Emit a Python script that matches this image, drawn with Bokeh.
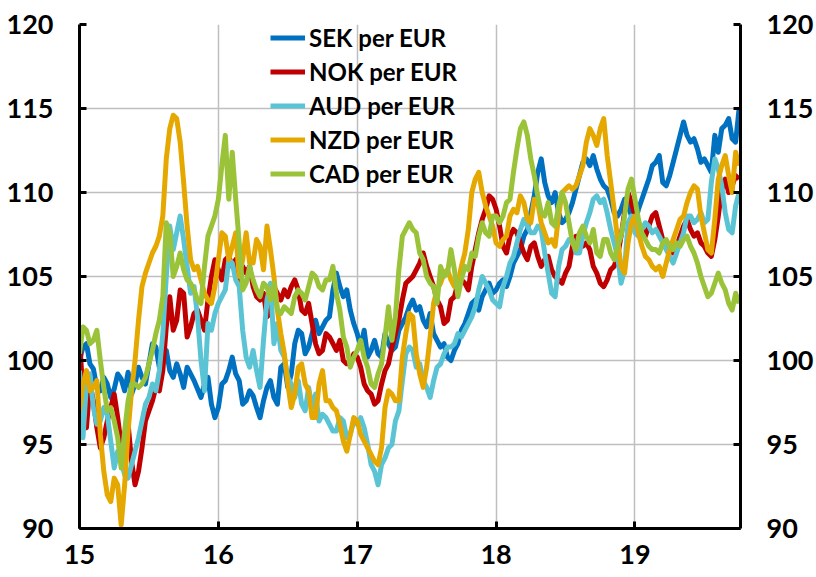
from bokeh.plotting import figure
from bokeh.models import Range1d, LinearAxis, FixedTicker, Legend, LegendItem
from bokeh.embed import file_html
from bokeh.resources import INLINE

# time axis (year - 2000), one reading every 0.025 year
years = [round(15 + 0.025 * i, 3) for i in range(191)]

sek = [100.0, 100.8, 101.0, 99.8, 99.5, 98.4, 98.2, 99.0, 98.6, 97.8,
       98.3, 99.2, 98.9, 98.2, 99.3, 98.0, 98.6, 99.6, 99.0, 98.6,
       99.8, 101.0, 100.8, 99.6, 100.2, 100.6, 99.4, 99.0, 99.8, 99.2,
       98.4, 99.6, 99.2, 98.8, 98.3, 97.8, 98.6, 99.0, 97.4, 96.6,
       97.2, 98.6, 98.8, 99.4, 100.2, 99.2, 98.8, 97.4, 97.6, 98.2,
       97.9, 97.2, 96.6, 97.6, 98.4, 98.8, 97.8, 97.4, 99.6, 99.8,
       98.4, 99.2, 101.0, 101.8, 101.6, 100.4, 100.8, 101.6, 102.4, 101.6,
       102.0, 102.4, 102.6, 104.2, 105.2, 104.4, 103.8, 104.2, 103.0, 102.2,
       101.6, 100.8, 101.8, 100.2, 100.6, 101.2, 100.4, 100.2, 101.6, 101.0,
       100.6, 100.8, 101.8, 102.2, 102.6, 103.2, 103.6, 103.0, 103.2, 102.4,
       102.0, 102.8, 101.6, 101.2, 100.8, 101.0, 100.2, 100.0, 100.6, 101.0,
       101.8, 102.2, 102.8, 103.4, 103.6, 103.0, 103.8, 104.2, 104.6, 104.0,
       104.2, 104.6, 104.8, 104.4, 105.0, 105.8, 106.2, 106.6, 107.4, 107.8,
       108.8, 109.8, 111.2, 112.0, 110.6, 109.8, 109.4, 110.0, 108.8, 108.2,
       108.4, 108.8, 109.4, 110.2, 111.0, 111.8, 112.0, 111.6, 112.2, 111.4,
       110.8, 110.4, 110.2, 109.6, 108.8, 108.6, 109.0, 109.6, 109.2, 108.6,
       108.2, 109.0, 109.6, 110.2, 110.8, 111.6, 111.8, 112.2, 110.6, 110.4,
       111.0, 111.8, 112.6, 113.4, 114.2, 113.4, 113.0, 113.2, 112.6, 111.8,
       112.0, 111.6, 111.2, 113.4, 112.4, 113.8, 114.0, 114.4, 113.2, 113.0,
       115.0]

nok = [101.3, 98.0, 96.0, 98.6, 97.6, 96.0, 94.8, 95.4, 96.4, 97.2,
       98.0, 96.6, 95.0, 94.4, 96.2, 94.0, 92.6, 93.4, 94.8, 96.4,
       97.0, 97.6, 98.4, 98.2, 99.4, 102.0, 103.8, 101.8, 102.4, 104.2,
       104.0, 101.4, 102.0, 102.8, 103.0, 102.4, 101.8, 103.6, 105.0, 106.0,
       105.4, 104.8, 106.0, 106.2, 105.6, 106.0, 104.8, 105.6, 105.2, 105.6,
       104.4, 103.8, 103.6, 104.0, 102.6, 102.8, 104.4, 104.0, 103.6, 104.2,
       103.8, 104.4, 104.8, 104.2, 103.0, 102.8, 103.4, 102.2, 101.0, 100.4,
       100.6, 101.6, 101.4, 101.0, 100.6, 101.2, 100.0, 99.8, 99.8, 100.4,
       100.2, 99.6, 98.6, 98.2, 98.0, 97.4, 97.6, 98.6, 99.4, 99.8,
       100.8, 101.6, 102.4, 103.6, 104.6, 104.8, 105.0, 105.4, 105.8, 106.4,
       105.6, 105.0, 104.4, 103.6, 103.2, 102.2, 102.4, 103.6, 103.8, 104.6,
       104.8, 104.6, 104.2, 105.6, 106.6, 107.6, 108.4, 109.0, 109.8, 109.6,
       109.0, 108.0, 106.8, 106.4, 107.4, 107.8, 107.6, 107.0, 106.4, 106.0,
       106.8, 107.0, 106.2, 105.6, 106.0, 106.2, 105.4, 105.0, 104.8, 104.6,
       105.2, 105.6, 106.8, 107.4, 107.4, 106.8, 107.0, 106.6, 105.6, 105.2,
       104.6, 104.4, 104.8, 105.4, 105.6, 106.2, 107.4, 108.8, 110.0, 109.4,
       108.6, 108.0, 107.8, 107.4, 108.0, 108.6, 108.8, 108.0, 107.2, 106.8,
       106.8, 106.4, 106.8, 107.4, 108.0, 108.4, 107.8, 107.4, 107.6, 107.0,
       106.8, 106.4, 106.2, 107.2, 108.6, 110.2, 110.8, 110.0, 110.4, 111.0,
       110.8]

aud = [99.4, 95.4, 98.6, 99.2, 97.2, 96.2, 96.4, 97.2, 96.8, 95.2,
       93.6, 94.6, 94.0, 93.2, 93.0, 93.8, 94.6, 95.4, 96.4, 97.4,
       97.8, 98.6, 98.2, 99.4, 101.6, 105.0, 108.0, 106.6, 107.6, 108.6,
       107.2, 105.6, 104.0, 104.4, 102.6, 100.0, 98.2, 102.2, 101.8, 102.8,
       103.4, 103.8, 104.2, 106.0, 105.8, 104.8, 104.4, 101.8, 100.2, 99.6,
       100.6, 99.4, 98.4, 101.2, 103.6, 104.6, 101.0, 102.2, 100.6, 100.2,
       99.0, 98.6, 97.8, 98.8, 97.4, 97.0, 98.4, 97.2, 98.0, 96.4,
       96.8, 96.6, 96.2, 95.8, 95.8, 96.6, 96.4, 95.4, 95.6, 96.4,
       96.2, 96.6, 96.0, 95.0, 93.8, 93.4, 92.6, 93.8, 94.2, 94.8,
       95.0, 96.4, 97.0, 98.8, 100.4, 100.8, 100.6, 99.6, 99.8, 98.8,
       98.4, 97.8, 98.8, 99.6, 99.8, 100.4, 100.8, 100.8, 101.0, 101.6,
       101.4, 101.8, 102.2, 102.6, 103.2, 104.2, 105.0, 104.6, 104.2, 103.6,
       103.4, 103.2, 104.4, 105.0, 105.8, 106.2, 107.0, 107.8, 108.4, 108.0,
       107.6, 107.6, 108.0, 107.8, 106.4, 105.2, 104.0, 103.8, 105.6, 106.6,
       106.8, 107.2, 107.2, 106.4, 106.4, 107.4, 108.2, 108.8, 109.6, 109.8,
       109.4, 109.6, 108.8, 107.8, 107.0, 106.2, 104.6, 105.4, 108.2, 108.6,
       107.6, 107.4, 107.8, 108.2, 108.0, 107.6, 107.8, 107.4, 107.0, 106.6,
       106.2, 105.8, 106.4, 107.0, 107.6, 108.6, 108.6, 108.2, 108.4, 108.8,
       108.2, 108.4, 110.6, 112.0, 111.4, 110.4, 108.8, 107.8, 107.6, 109.2,
       110.0]

nzd = [97.0, 98.6, 99.4, 98.2, 98.4, 98.8, 95.6, 93.4, 92.0, 91.6,
       93.0, 92.6, 90.2, 92.6, 95.8, 98.2, 100.0, 102.4, 104.4, 105.2,
       105.8, 106.4, 106.8, 107.4, 108.6, 112.0, 113.8, 114.6, 114.4, 113.0,
       110.6, 108.0, 106.0, 105.4, 105.6, 104.8, 104.0, 103.6, 103.4, 104.4,
       106.0, 107.6, 107.4, 106.0, 106.8, 107.6, 105.0, 106.0, 107.6, 105.8,
       105.8, 107.2, 106.8, 105.4, 108.0, 106.6, 105.0, 103.0, 101.6, 100.4,
       98.6, 97.2, 98.0, 99.6, 99.8, 98.6, 98.2, 96.6, 96.6, 98.6,
       99.4, 97.6, 97.6, 97.2, 97.0, 96.2, 95.2, 94.6, 95.6, 96.6,
       96.4, 95.6, 95.2, 94.8, 94.4, 94.0, 93.8, 94.8, 97.2, 98.2,
       98.0, 97.6, 97.6, 100.2, 101.6, 102.8, 102.6, 100.4, 99.2, 98.4,
       99.6, 101.4, 103.4, 104.2, 104.6, 105.2, 105.4, 104.8, 104.4, 104.6,
       105.6, 106.4, 107.8, 110.0, 110.8, 111.2, 110.0, 109.2, 108.6, 108.0,
       107.0, 106.8, 107.2, 107.4, 108.6, 109.0, 108.8, 109.8, 109.4, 108.4,
       108.2, 109.6, 109.4, 108.2, 107.6, 107.0, 107.2, 106.8, 108.6, 110.0,
       110.2, 110.4, 110.2, 110.4, 111.0, 111.6, 113.0, 113.8, 113.4, 112.8,
       113.8, 114.4, 112.2, 110.6, 109.0, 107.2, 105.6, 105.2, 107.0, 108.2,
       108.6, 107.6, 106.8, 106.2, 106.0, 105.6, 105.4, 105.6, 105.0, 105.8,
       106.6, 107.2, 107.8, 108.4, 108.6, 109.4, 110.0, 110.4, 110.2, 108.6,
       107.6, 106.6, 106.4, 108.4, 110.8, 111.6, 112.2, 111.0, 110.0, 112.4,
       111.6]

cad = [100.4, 102.0, 101.8, 101.0, 101.2, 101.8, 100.0, 98.4, 97.0, 97.2,
       96.4, 95.4, 93.6, 95.8, 97.6, 98.6, 98.6, 98.4, 98.6, 99.0,
       99.8, 100.6, 101.6, 102.4, 103.8, 108.2, 107.6, 105.0, 105.6, 106.4,
       105.4, 104.8, 104.6, 104.2, 103.6, 103.4, 105.6, 107.4, 108.0, 108.6,
       109.6, 111.6, 113.4, 109.6, 112.4, 109.6, 107.0, 104.2, 104.6, 105.6,
       104.8, 104.2, 103.8, 104.6, 104.4, 103.6, 104.6, 103.0, 102.8, 103.2,
       103.0, 102.8, 103.8, 104.2, 104.0, 103.6, 104.4, 105.2, 105.0, 104.4,
       104.2, 104.8, 104.8, 105.6, 104.0, 103.0, 101.4, 100.8, 99.6, 100.2,
       100.6, 101.2, 100.2, 99.6, 98.6, 98.4, 99.2, 99.8, 101.4, 103.2,
       101.2, 102.6, 105.4, 107.4, 107.8, 108.2, 107.8, 107.6, 106.4, 106.0,
       105.0, 104.6, 104.4, 103.4, 105.6, 105.0, 105.2, 106.6, 105.4, 103.8,
       104.8, 105.6, 105.4, 106.4, 106.2, 107.4, 108.2, 107.6, 107.4, 108.6,
       108.6, 108.2, 108.6, 109.4, 109.6, 111.2, 112.6, 113.8, 114.2, 113.4,
       112.0, 111.0, 109.8, 108.8, 108.6, 109.4, 108.2, 108.0, 109.2, 110.0,
       109.4, 108.2, 107.0, 106.6, 107.6, 108.0, 107.4, 107.0, 107.8, 106.4,
       106.2, 107.2, 107.2, 106.4, 106.0, 106.8, 107.4, 108.6, 110.2, 110.8,
       109.6, 108.4, 107.6, 107.2, 106.8, 106.6, 106.6, 106.4, 107.0, 107.2,
       106.8, 106.6, 107.0, 106.8, 107.2, 107.4, 106.8, 106.4, 105.8, 105.0,
       104.4, 103.8, 104.0, 104.6, 105.2, 104.6, 104.2, 103.4, 103.0, 104.0,
       103.4]

series_names = ["SEK per EUR", "NOK per EUR", "AUD per EUR", "NZD per EUR", "CAD per EUR"]
series_values = [sek, nok, aud, nzd, cad]
series_colors = ["#0070C0", "#C00000", "#5BC4D4", "#E5A800", "#9BC33A"]

x_ticks = [15, 16, 17, 18, 19]
y_ticks = [90, 95, 100, 105, 110, 115, 120]

FONT = "Lato"

p = figure(width=816, height=577, output_backend="svg", toolbar_location=None,
           x_range=Range1d(15, 19.76), y_range=Range1d(90, 120),
           min_border_left=79, min_border_right=73, min_border_top=24,
           min_border_bottom=49)
p.outline_line_color = None
p.background_fill_color = "white"

renderers = []
for vals, col in zip(series_values, series_colors):
    r = p.line(years, vals, line_color=col, line_width=5, line_join="round")
    renderers.append(r)

right_axis = LinearAxis()
p.add_layout(right_axis, "right")

for ax in [p.yaxis[0], right_axis]:
    ax.ticker = FixedTicker(ticks=y_ticks)

p.xaxis.ticker = FixedTicker(ticks=x_ticks)

for ax in p.axis:
    ax.axis_line_color = "black"
    ax.axis_line_width = 3
    ax.major_tick_line_color = "black"
    ax.major_tick_line_width = 3
    ax.major_tick_in = 7
    ax.major_tick_out = 0
    ax.minor_tick_line_color = None
    ax.major_label_text_font = FONT
    ax.major_label_text_font_style = "bold"
    ax.major_label_text_font_size = "27px"
    ax.major_label_text_color = "black"

p.yaxis[0].major_label_standoff = 26
right_axis.major_label_standoff = 26
p.xaxis.major_label_standoff = 16

p.xgrid.ticker = FixedTicker(ticks=x_ticks)
p.ygrid.ticker = FixedTicker(ticks=y_ticks)
for g in [p.xgrid[0], p.ygrid[0]]:
    g.grid_line_color = "#BFBFBF"
    g.grid_line_width = 1.5

legend = Legend(items=[LegendItem(label=n, renderers=[r]) for n, r in zip(series_names, renderers)],
                location=(191, 340))
legend.background_fill_alpha = 0
legend.border_line_alpha = 0
legend.padding = 0
legend.margin = 0
legend.spacing = 5
legend.glyph_width = 35
legend.glyph_height = 29
legend.label_standoff = 4
legend.label_text_font = FONT
legend.label_text_font_style = "bold"
legend.label_text_font_size = "24px"
legend.label_text_color = "black"
p.add_layout(legend)

open("out.html", "w").write(file_html(p, INLINE))
